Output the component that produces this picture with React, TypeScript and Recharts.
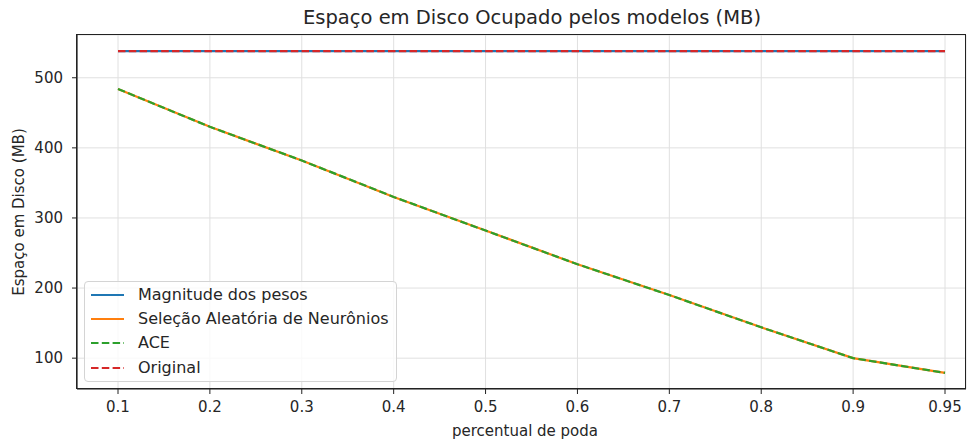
import React from "react";
import { LineChart, Line, XAxis, YAxis, CartesianGrid } from "recharts";

const categories = ["0.1", "0.2", "0.3", "0.4", "0.5", "0.6", "0.7", "0.8", "0.9", "0.95"];
const magnitudePesos = [538, 538, 538, 538, 538, 538, 538, 538, 538, 538];
const selecaoAleatoria = [484, 430, 382, 330, 282, 234, 190, 144, 100, 79];
const ace = [484, 430, 382, 330, 282, 234, 190, 144, 100, 79];
const original = [538, 538, 538, 538, 538, 538, 538, 538, 538, 538];
const yTicks = [100, 200, 300, 400, 500];

const series = [
  { key: "mag", name: "Magnitude dos pesos", color: "#1f77b4", dash: undefined },
  { key: "sel", name: "Seleção Aleatória de Neurônios", color: "#ff7f0e", dash: undefined },
  { key: "ace", name: "ACE", color: "#2ca02c", dash: "7.5 3.3" },
  { key: "orig", name: "Original", color: "#d62728", dash: "7.5 3.3" },
];

const data = categories.map((p, i) => ({
  p,
  mag: magnitudePesos[i],
  sel: selecaoAleatoria[i],
  ace: ace[i],
  orig: original[i],
}));

const FONT = "'DejaVu Sans', sans-serif";
const TEXT = "#262626";
const tick = { fill: TEXT, fontSize: 15, fontFamily: FONT };

export default function App() {
  return (
    <div style={{ position: "absolute", left: 0, top: 0, width: 976, height: 441, fontFamily: FONT, background: "#fff" }}>
      <LineChart
        width={976}
        height={441}
        data={data}
        margin={{ top: 35, right: 10, bottom: 22, left: 17 }}
      >
        <CartesianGrid stroke="#e0e0e0" strokeWidth={1} />
        <XAxis
          dataKey="p"
          type="category"
          padding={{ left: 41, right: 21 }}
          height={30}
          tick={tick}
          tickSize={5}
          tickMargin={7}
          tickLine={{ stroke: "#222" }}
          axisLine={{ stroke: "#222", strokeWidth: 1.2 }}
          interval={0}
        />
        <YAxis
          type="number"
          domain={[56, 561]}
          ticks={yTicks}
          width={60}
          tick={tick}
          tickSize={5}
          tickMargin={9}
          tickLine={{ stroke: "#222" }}
          axisLine={{ stroke: "#222", strokeWidth: 1.2 }}
          allowDataOverflow
        />
        {series.map((s) => (
          <Line
            key={s.key}
            dataKey={s.key}
            name={s.name}
            stroke={s.color}
            strokeWidth={2.2}
            strokeDasharray={s.dash}
            dot={false}
            activeDot={false}
            type="linear"
            isAnimationActive={false}
          />
        ))}
      </LineChart>

      {/* frame around the plot area (top and right spines) */}
      <div
        style={{
          position: "absolute",
          left: 76.4,
          top: 34.4,
          width: 890,
          height: 355,
          boxSizing: "border-box",
          border: "1.2px solid #222",
          pointerEvents: "none",
        }}
      />

      <div style={{ position: "absolute", left: 0, right: 0, top: 6, textAlign: "center", paddingLeft: 88, fontSize: 19.5, color: TEXT, lineHeight: "24px" }}>
        Espaço em Disco Ocupado pelos modelos (MB)
      </div>
      <div style={{ position: "absolute", left: 0, right: 0, top: 422, textAlign: "center", paddingLeft: 74, fontSize: 15, color: TEXT, lineHeight: "19px" }}>
        percentual de poda
      </div>
      <div
        style={{
          position: "absolute",
          left: 19,
          top: 212,
          transform: "translate(-50%, -50%) rotate(-90deg)",
          whiteSpace: "nowrap",
          fontSize: 15,
          color: TEXT,
          lineHeight: "19px",
        }}
      >
        Espaço em Disco (MB)
      </div>

      <div
        style={{
          position: "absolute",
          left: 84,
          top: 281,
          width: 313,
          height: 101,
          boxSizing: "border-box",
          border: "1px solid #d4d4d4",
          borderRadius: 4,
          background: "rgba(255,255,255,0.8)",
        }}
      >
        {series.map((s, i) => (
          <div key={s.key} style={{ position: "absolute", left: 0, top: 13 + i * 24.2 - 10, height: 20, display: "flex", alignItems: "center" }}>
            <svg width={50} height={20} style={{ display: "block" }}>
              <line x1={6} x2={39} y1={10} y2={10} stroke={s.color} strokeWidth={2.2} strokeDasharray={s.dash} />
            </svg>
            <span style={{ marginLeft: 3, fontSize: 16, color: TEXT, whiteSpace: "nowrap", lineHeight: "20px" }}>{s.name}</span>
          </div>
        ))}
      </div>
    </div>
  );
}
